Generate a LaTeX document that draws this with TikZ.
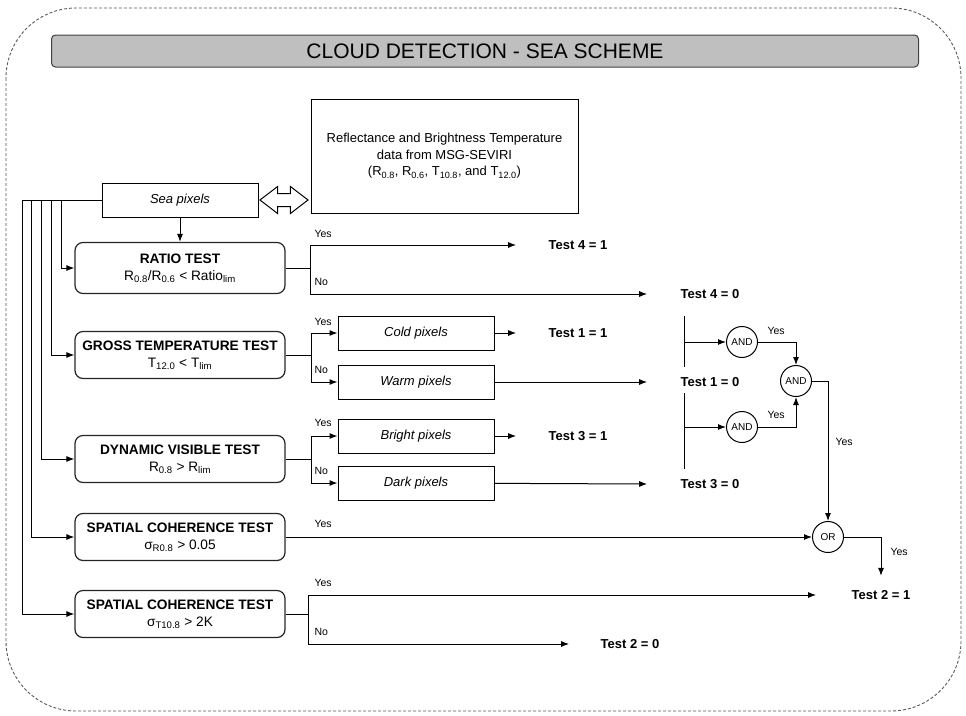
\documentclass[tikz,border=0pt]{standalone}
\usepackage{fontspec}
\setmainfont{Liberation Sans}
\usetikzlibrary{arrows.meta,shapes.arrows}

\begin{document}
\begin{tikzpicture}[x=1pt, y=-1pt, line width=1pt,
  outline/.style={draw=black!65, line width=0.9pt, dash pattern=on 3pt off 2pt, rounded corners=70pt},
  titlebar/.style={draw=black!75, fill=black!25, rounded corners=4pt, minimum width=867pt, minimum height=32pt, inner sep=0pt, font=\fontsize{21}{24}\selectfont},
  databox/.style={draw, minimum width=267pt, minimum height=114pt, align=center, font=\fontsize{13}{16.5}\selectfont},
  pixbox/.style={draw, minimum width=156pt, minimum height=34pt, font=\fontsize{13}{16}\selectfont\itshape},
  testbox/.style={draw=black!85, line width=1.2pt, rounded corners=8pt, minimum width=210pt, minimum height=47pt, align=center, font=\fontsize{13.7}{17}\selectfont},
  result/.style={font=\fontsize{13}{16}\selectfont\bfseries, inner sep=0pt},
  lbl/.style={font=\fontsize{10.5}{12}\selectfont, inner sep=0pt, anchor=west},
  gate/.style={draw, circle, minimum size=31pt, inner sep=0pt, font=\fontsize{10}{12}\selectfont},
  link/.style={draw, double arrow, double arrow head extend=7pt, double arrow tip angle=75, minimum height=48pt, inner sep=0pt, inner ysep=6pt},
  arr/.style={-{Latex[length=8pt,width=6pt]}}
]
\useasboundingbox (0,0) rectangle (966,715);
\draw[outline] (6,8) rectangle (961,711);
\node[titlebar] (title) at (485,51) {CLOUD DETECTION - SEA SCHEME};

\node[databox] (data) at (444.5,156) {Reflectance and Brightness Temperature\\ data from MSG-SEVIRI\\ (R\textsubscript{0.8}, R\textsubscript{0.6}, T\textsubscript{10.8}, and T\textsubscript{12.0})};
\node[pixbox] (sea) at (180,200) {Sea pixels};
\node[link] (link) at (284,200) {};

\node[testbox, minimum height=51pt] (ratio) at (180,268) {\textbf{RATIO TEST}\\ R\textsubscript{0.8}/R\textsubscript{0.6} < Ratio\textsubscript{lim}};
\node[testbox] (gross) at (180,355) {\textbf{GROSS TEMPERATURE TEST}\\ T\textsubscript{12.0} < T\textsubscript{lim}};
\node[testbox] (dyn) at (180,459) {\textbf{DYNAMIC VISIBLE TEST}\\ R\textsubscript{0.8} > R\textsubscript{lim}};
\node[testbox] (spatr) at (180,537) {\textbf{SPATIAL COHERENCE TEST}\\ σ\textsubscript{R0.8} > 0.05};
\node[testbox] (spatt) at (180,614) {\textbf{SPATIAL COHERENCE TEST}\\ σ\textsubscript{T10.8} > 2K};

\node[pixbox] (cold) at (416,333) {Cold pixels};
\node[pixbox] (warm) at (416,382) {Warm pixels};
\node[pixbox] (bright) at (416,436) {Bright pixels};
\node[pixbox] (dark) at (416,483) {Dark pixels};

\node[result] (t41) at (578,245) {Test 4 = 1};
\node[result] (t40) at (710,294) {Test 4 = 0};
\node[result] (t11) at (578,333) {Test 1 = 1};
\node[result] (t10) at (710,382) {Test 1 = 0};
\node[result] (t31) at (578,436) {Test 3 = 1};
\node[result] (t30) at (710,484) {Test 3 = 0};
\node[result] (t21) at (881,595) {Test 2 = 1};
\node[result] (t20) at (630,644) {Test 2 = 0};

\node[gate] (and1) at (742,342) {AND};
\node[gate] (and2) at (742,427) {AND};
\node[gate] (and3) at (796,381) {AND};
\node[gate] (or) at (828,537) {OR};

% feeders from the sea pixels
\coordinate (f1) at (61,200);
\coordinate (f2) at (51,200);
\coordinate (f3) at (41,200);
\coordinate (f4) at (31,200);
\coordinate (f5) at (22,200);
\draw (sea.west) -- (f5);
\draw[arr] (f1) |- (ratio);
\draw[arr] (f2) |- (gross);
\draw[arr] (f3) |- (dyn);
\draw[arr] (f4) |- (spatr);
\draw[arr] (f5) |- (spatt);
\draw[arr] (sea) -- (ratio);

% yes / no branches
\coordinate (jr) at (310,268);
\coordinate (jg) at (311,355);
\coordinate (jd) at (311,459);
\coordinate (js) at (308,614);

\draw (ratio) -- (jr);
\draw[arr] (jr) |- ([xshift=-32pt]t41.west);
\draw[arr] (jr) |- ([xshift=-33pt]t40.west);
\node[lbl] (y4) at (314,234) {Yes};
\node[lbl] (n4) at (314,282) {No};

\draw (gross) -- (jg);
\draw[arr] (jg) |- (cold);
\draw[arr] (jg) |- (warm);
\draw[arr] (cold) -- ([xshift=-32pt]t11.west);
\draw[arr] (warm) -- ([xshift=-33pt]t10.west);
\node[lbl] (y1) at (314,322) {Yes};
\node[lbl] (n1) at (314,370) {No};

\draw (dyn) -- (jd);
\draw[arr] (jd) |- (bright);
\draw[arr] (jd) |- (dark);
\draw[arr] (bright) -- ([xshift=-32pt]t31.west);
\draw[arr] (dark) -- ([xshift=-33pt]t30.west);
\node[lbl] (y3) at (314,423) {Yes};
\node[lbl] (n3) at (314,471) {No};

\draw[arr] (spatr) -- (or);
\node[lbl] (y2r) at (314,524) {Yes};

\draw (spatt) -- (js);
\draw[arr] (js) |- ([xshift=-35pt]t21.west);
\draw[arr] (js) |- ([xshift=-31pt]t20.west);
\node[lbl] (y2t) at (314,583) {Yes};
\node[lbl] (n2t) at (314,632) {No};

% combining the zero results
\coordinate (b1a) at (684,316);
\coordinate (b1m) at (684,342);
\coordinate (b1b) at (684,367);
\coordinate (b2a) at (684,393);
\coordinate (b2m) at (684,427);
\coordinate (b2b) at (684,469);
\draw (b1a) -- (b1b);
\draw (b2a) -- (b2b);
\draw[arr] (b1m) -- (and1);
\draw[arr] (b2m) -- (and2);
\draw[arr] (and1) -| (and3);
\draw[arr] (and2) -| (and3);
\draw[arr] (and3) -| (or);
\draw[arr] (or) -| ([yshift=14pt]t21.north);
\node[lbl] (ya1) at (767,331) {Yes};
\node[lbl] (ya2) at (767,415) {Yes};
\node[lbl] (ya3) at (835,442) {Yes};
\node[lbl] (yor) at (890,552) {Yes};
\end{tikzpicture}
\end{document}
